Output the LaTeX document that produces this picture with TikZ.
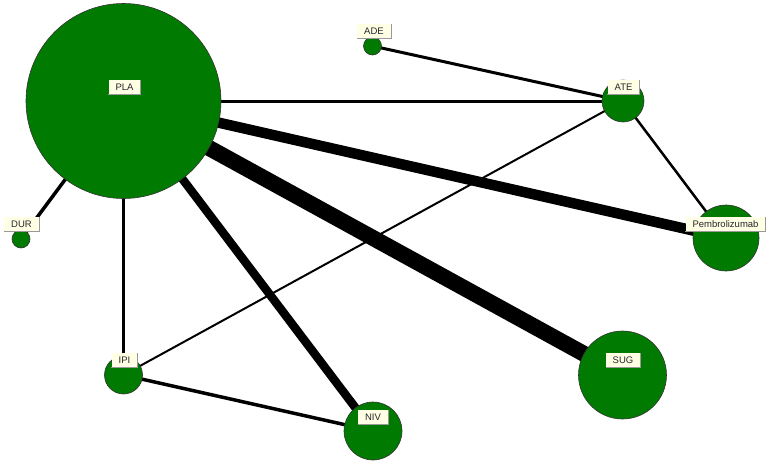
\documentclass[tikz,border=0pt]{standalone}
\usepackage{fontspec}
\setmainfont{Liberation Sans}
\usetikzlibrary{backgrounds}
\definecolor{trtgreen}{RGB}{0,122,0}
\definecolor{tagfill}{RGB}{255,255,230}
\begin{document}
\begin{tikzpicture}[x=1pt, y=-1pt,
  trt/.style={draw=black!80, fill=trtgreen, circle, inner sep=0pt, line width=.6pt},
  tag/.style={fill=tagfill, text=black!85, inner xsep=7pt, inner ysep=0pt, minimum height=14pt,
    font=\fontsize{9.5}{10}\selectfont}]
  \useasboundingbox (0,0) rectangle (772,464);

  \node (PLA) [trt, minimum size=195pt] at (123.5,101) {};
  \node (ADE) [trt, minimum size=18pt] at (372.5,46) {};
  \node (ATE) [trt, minimum size=42pt] at (623,101) {};
  \node (DUR) [trt, minimum size=18pt] at (21,239) {};
  \node (PEM) [trt, minimum size=66pt] at (726,238) {};
  \node (IPI) [trt, minimum size=38pt] at (123.5,375) {};
  \node (NIV) [trt, minimum size=58pt] at (373,431) {};
  \node (SUG) [trt, minimum size=88pt] at (622.5,375) {};

  \begin{pgfonlayer}{background}
  \draw [line width=3pt] (PLA.center) -- (ATE.center);
  \draw [line width=10.5pt] (PLA.center) -- (PEM.center);
  \draw [line width=16pt] (PLA.center) -- (SUG.center);
  \draw [line width=8.5pt] (PLA.center) -- (NIV.center);
  \draw [line width=3.5pt] (PLA.center) -- (IPI.center);
  \draw [line width=3.5pt] (PLA.center) -- (DUR.center);
  \draw [line width=3pt] (ADE.center) -- (ATE.center);
  \draw [line width=2.5pt] (ATE.center) -- (PEM.center);
  \draw [line width=2pt] (ATE.center) -- (IPI.center);
  \draw [line width=3.5pt] (IPI.center) -- (NIV.center);
  \end{pgfonlayer}

  \node (lPLA) [tag] at (124.5,87) {PLA};
  \node (lADE) [tag] at (374,31) {ADE};
  \node (lATE) [tag] at (623.5,87) {ATE};
  \node (lDUR) [tag] at (21.5,224) {DUR};
  \node (lPEM) [tag] at (725.5,224) {Pembrolizumab};
  \node (lIPI) [tag] at (124.5,360) {IPI};
  \node (lNIV) [tag] at (373,417) {NIV};
  \node (lSUG) [tag] at (623,360) {SUG};

  \foreach \l in {lPLA,lADE,lATE,lDUR,lPEM,lIPI,lNIV,lSUG}
    \draw [black!40, line width=.8pt] (\l.north east) -- (\l.south east) -- (\l.south west);
\end{tikzpicture}
\end{document}
